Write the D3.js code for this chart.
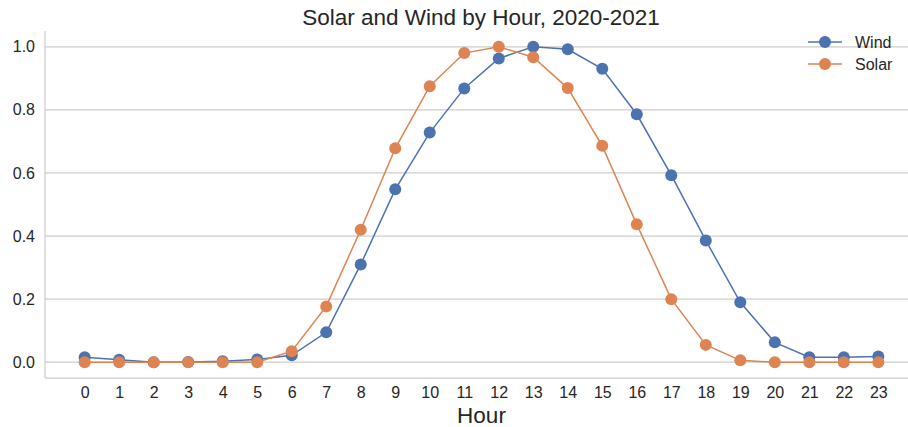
<!DOCTYPE html>
<html>
<head>
<meta charset="utf-8">
<script src="https://cdn.jsdelivr.net/npm/d3@7"></script>
<style>
  body { margin: 0; background: #fff; }
  text { font-family: "Liberation Sans", Arial, sans-serif; fill: #262626; }
</style>
</head>
<body>
<div id="chart"></div>
<script>
// Data
const hours = d3.range(0, 24);
const wind = [0.016, 0.008, 0.0, 0.001, 0.003, 0.009, 0.022, 0.095, 0.31, 0.548, 0.728, 0.868,
              0.963, 1.0, 0.992, 0.93, 0.786, 0.593, 0.386, 0.19, 0.063, 0.016, 0.016, 0.018];
const solar = [0, 0, 0, 0, 0, 0, 0.035, 0.177, 0.42, 0.678, 0.875, 0.98,
               1.0, 0.967, 0.869, 0.686, 0.437, 0.2, 0.055, 0.006, 0, 0, 0, 0];
const yTicks = [0.0, 0.2, 0.4, 0.6, 0.8, 1.0];

const width = 908, height = 427;
const xLeft = 45, xRight = 918, yTop = 31, yBottom = 378;

const svg = d3.select("#chart").append("svg")
  .attr("width", width)
  .attr("height", height);

const x = d3.scaleLinear().domain([-1.15, 24.15]).range([xLeft, xRight]);
const y = d3.scaleLinear().domain([-0.05, 1.05]).range([yBottom, yTop]);

// grid
svg.append("g")
  .selectAll("line")
  .data(yTicks)
  .join("line")
  .attr("x1", xLeft).attr("x2", xRight)
  .attr("y1", d => y(d)).attr("y2", d => y(d))
  .attr("stroke", "#cccccc")
  .attr("stroke-width", 1.25);

// axes
const xAxis = svg.append("g")
  .attr("transform", `translate(0,${yBottom})`)
  .call(d3.axisBottom(x).tickValues(hours).tickSize(0).tickPadding(9).tickFormat(d3.format("d")));
const yAxis = svg.append("g")
  .attr("transform", `translate(${xLeft},0)`)
  .call(d3.axisLeft(y).tickValues(yTicks).tickSize(0).tickPadding(10).tickFormat(d3.format(".1f")));

[xAxis, yAxis].forEach(a => {
  a.select(".domain").attr("stroke", "#cccccc").attr("stroke-width", 1.25);
  a.selectAll("text").style("font-size", "16px").attr("fill", "#262626");
});
xAxis.select(".domain").attr("d", `M${xLeft},0H${xRight}`);
yAxis.select(".domain").attr("d", `M0,${yTop}V${yBottom}`);

// series
const series = [
  { name: "Wind", values: wind, color: "#4c72b0" },
  { name: "Solar", values: solar, color: "#dd8452" }
];

const line = d3.line().x((d, i) => x(hours[i])).y(d => y(d));

series.forEach(s => {
  svg.append("path")
    .datum(s.values)
    .attr("fill", "none")
    .attr("stroke", s.color)
    .attr("stroke-width", 1.5)
    .attr("d", line);
  svg.append("g")
    .selectAll("circle")
    .data(s.values)
    .join("circle")
    .attr("cx", (d, i) => x(hours[i]))
    .attr("cy", d => y(d))
    .attr("r", 6)
    .attr("fill", s.color);
});

// title and label
svg.append("text")
  .attr("x", 481)
  .attr("y", 25)
  .attr("text-anchor", "middle")
  .style("font-size", "22.5px")
  .text("Solar and Wind by Hour, 2020-2021");

svg.append("text")
  .attr("x", x(11.5))
  .attr("y", 423)
  .attr("text-anchor", "middle")
  .style("font-size", "22.5px")
  .text("Hour");

// legend
const legend = svg.append("g").attr("transform", "translate(808,42)");
series.forEach((s, i) => {
  const g = legend.append("g").attr("transform", `translate(0,${i * 22})`);
  g.append("line").attr("x1", 0).attr("x2", 34).attr("stroke", s.color).attr("stroke-width", 1.5);
  g.append("circle").attr("cx", 17).attr("r", 6).attr("fill", s.color);
  g.append("text").attr("x", 47).attr("y", 6).style("font-size", "16px").text(s.name);
});
</script>
</body>
</html>
